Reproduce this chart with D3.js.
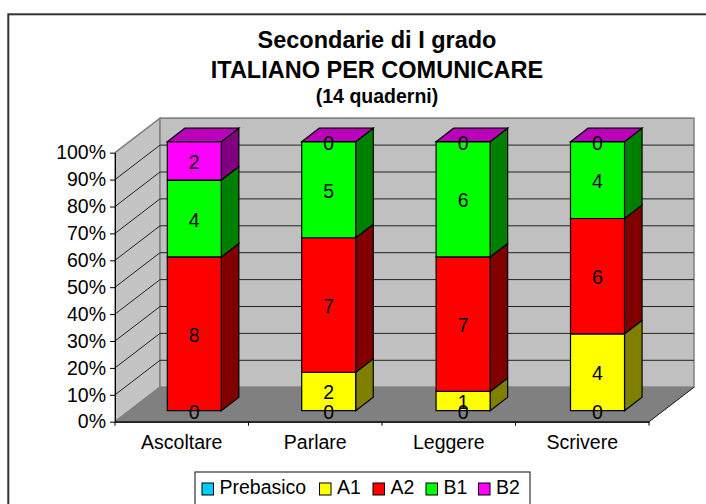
<!DOCTYPE html>
<html>
<head>
<meta charset="utf-8">
<script src="https://cdn.jsdelivr.net/npm/d3@7"></script>
<style>
  html, body { margin: 0; padding: 0; background: #fff; overflow: hidden; }
  text { font-family: "Liberation Sans", Arial, sans-serif; fill: #000; }
</style>
</head>
<body>
<div id="chart"></div>
<script>
const categories = ["Ascoltare", "Parlare", "Leggere", "Scrivere"];
const seriesNames = ["Prebasico", "A1", "A2", "B1", "B2"];
const prebasico = [0, 0, 0, 0];
const a1 = [0, 2, 1, 4];
const a2 = [8, 7, 7, 6];
const b1 = [4, 5, 6, 4];
const b2 = [2, 0, 0, 0];
const percentTicks = [0, 10, 20, 30, 40, 50, 60, 70, 80, 90, 100];
const titleLines = ["Secondarie di I grado", "ITALIANO PER COMUNICARE", "(14 quaderni)"];

const frontColors = ["#00ccff", "#ffff00", "#ff0000", "#00ff00", "#ff00ff"];
const sideColors = ["#006680", "#808000", "#800000", "#008000", "#800080"];
const topColors = ["#00b0dd", "#dddd00", "#c00000", "#00c000", "#bb00bb"];

const width = 706, height = 504;
const fontFamily = '"Liberation Sans", Arial, sans-serif';
const svg = d3.select("#chart").append("svg")
  .attr("width", width)
  .attr("height", height)
  .style("display", "block");

// chart frame, right and bottom edges run off the picture
svg.append("rect")
  .attr("x", 8.3).attr("y", 14.3)
  .attr("width", 720).attr("height", 520)
  .attr("fill", "#fff").attr("stroke", "#333").attr("stroke-width", 2);

// title
svg.append("text").attr("x", 377).attr("y", 47.5).attr("text-anchor", "middle")
  .attr("font-size", 23.5).attr("font-weight", "bold").text(titleLines[0]);
svg.append("text").attr("x", 377).attr("y", 78).attr("text-anchor", "middle")
  .attr("font-size", 23.5).attr("font-weight", "bold").text(titleLines[1]);
svg.append("text").attr("x", 377).attr("y", 103).attr("text-anchor", "middle")
  .attr("font-size", 19.5).attr("font-weight", "bold").text(titleLines[2]);

// front plane scales, depth is an oblique offset on top of them
const x = d3.scaleBand().domain(categories).range([115, 649]);
const xBars = d3.scaleBand().domain(categories).range([112.7, 650.3]);
const y = d3.scaleLinear().domain([0, 100]).range([421.7, 152.7]);
const depthX = d3.scaleLinear().domain([0, 1]).range([0, 45]);
const depthY = d3.scaleLinear().domain([0, 1]).range([0, -34.5]);

function pt(px, pct, d) {
  return [px + depthX(d), y(pct) + depthY(d)];
}
const line = d3.line();
function poly(points) { return line(points) + "Z"; }

const x0 = x.range()[0], x1 = x.range()[1];

// walls and floor
const walls = svg.append("g");
walls.append("path")
  .attr("d", poly([pt(x0, 0, 0), pt(x0, 100, 0), pt(x0, 100, 1), pt(x0, 0, 1)]))
  .attr("fill", "#c4c4c4").attr("stroke", "#808080").attr("stroke-width", 1.5);
walls.append("path")
  .attr("d", poly([pt(x0, 0, 1), pt(x0, 100, 1), pt(x1, 100, 1), pt(x1, 0, 1)]))
  .attr("fill", "#c0c0c0").attr("stroke", "#808080").attr("stroke-width", 1.5);
walls.append("path")
  .attr("d", poly([pt(x0, 0, 0), pt(x0, 0, 1), pt(x1, 0, 1), pt(x1, 0, 0)]))
  .attr("fill", "#808080").attr("stroke", "#808080");

// gridlines
percentTicks.slice(1).forEach(t => {
  walls.append("path")
    .attr("d", line([pt(x0, t, 0), pt(x0, t, 1), pt(x1, t, 1)]))
    .attr("fill", "none").attr("stroke", t === 100 ? "#808080" : "#222").attr("stroke-width", 1);
});
walls.append("path")
  .attr("d", line([pt(x0, 0, 0), pt(x1, 0, 0), pt(x1, 0, 1)]))
  .attr("fill", "none").attr("stroke", "#222").attr("stroke-width", 1);

// axes
svg.append("g")
  .attr("transform", `translate(${x0},0)`)
  .call(d3.axisLeft(y).tickValues(percentTicks).tickFormat(d => d + "%").tickSize(5).tickPadding(4).tickSizeOuter(0))
  .call(g => g.selectAll("text").attr("font-size", 19.5).style("font-family", fontFamily))
  .call(g => g.selectAll("path,line").attr("stroke", "#000"));

const xAxis = svg.append("g")
  .attr("transform", `translate(0,${y(0)})`)
  .call(d3.axisBottom(x).tickSize(0).tickPadding(13.5))
  .call(g => g.select(".domain").attr("stroke", "#222").attr("stroke-width", 1.5))
  .call(g => g.selectAll("text").attr("font-size", 19.5).style("font-family", fontFamily));
d3.range(categories.length + 1).forEach(i => {
  xAxis.append("line")
    .attr("x1", x0 + i * x.step()).attr("x2", x0 + i * x.step())
    .attr("y1", 0).attr("y2", 4).attr("stroke", "#000");
});

// stacked bars
const barWidth = 54, d0 = 0.32, d1 = 0.71;
const seriesValues = [prebasico, a1, a2, b1, b2];
const rows = categories.map((c, i) => {
  const row = { category: c };
  seriesNames.forEach((s, j) => { row[s] = seriesValues[j][i]; });
  return row;
});
const stacked = d3.stack().keys(seriesNames).offset(d3.stackOffsetExpand)(rows);

const barLeft = c => xBars(c) + (xBars.step() - barWidth) / 2;

categories.forEach((c, i) => {
  const g = svg.append("g");
  const left = barLeft(c), right = left + barWidth;
  stacked.forEach((s, j) => {
    const lo = s[i][0] * 100, hi = s[i][1] * 100;
    if (hi - lo <= 0) return;
    g.append("path")
      .attr("d", poly([pt(right, lo, d0), pt(right, hi, d0), pt(right, hi, d1), pt(right, lo, d1)]))
      .attr("fill", sideColors[j]).attr("stroke", "#000").attr("stroke-width", 1.2);
    g.append("path")
      .attr("d", poly([pt(left, lo, d0), pt(left, hi, d0), pt(right, hi, d0), pt(right, lo, d0)]))
      .attr("fill", frontColors[j]).attr("stroke", "#000").attr("stroke-width", 1.2);
  });
  // only the last series shows its top
  g.append("path")
    .attr("d", poly([pt(left, 100, d0), pt(left, 100, d1), pt(right, 100, d1), pt(right, 100, d0)]))
    .attr("fill", topColors[4]).attr("stroke", "#000").attr("stroke-width", 1.2);
});

// data labels sit on the front face, middle of each segment
categories.forEach((c, i) => {
  const cx = pt(barLeft(c) + barWidth / 2, 0, d0)[0];
  stacked.forEach((s, j) => {
    const val = seriesValues[j][i];
    // Ascoltare has no A1 label, it falls on the Prebasico 0
    if (j === 1 && val === 0) return;
    const mid = (s[i][0] + s[i][1]) / 2 * 100;
    svg.append("text")
      .attr("x", cx)
      .attr("y", pt(cx, mid, d0)[1] + 1)
      .attr("dy", "0.36em")
      .attr("text-anchor", "middle")
      .attr("font-size", 19.5)
      .text(val);
  });
});

// legend
const legend = svg.append("g");
legend.append("rect")
  .attr("x", 195).attr("y", 472).attr("width", 335).attr("height", 40)
  .attr("fill", "#fff").attr("stroke", "#333").attr("stroke-width", 1.2);
const legendX = d3.scaleOrdinal().domain(seriesNames).range([202, 319.5, 373, 426, 478.5]);
seriesNames.forEach((s, j) => {
  legend.append("rect")
    .attr("x", legendX(s)).attr("y", 483).attr("width", 11.5).attr("height", 12)
    .attr("fill", frontColors[j]).attr("stroke", "#000");
  legend.append("text")
    .attr("x", legendX(s) + 17.5).attr("y", 494)
    .attr("font-size", 19.5).text(s);
});
</script>
</body>
</html>
